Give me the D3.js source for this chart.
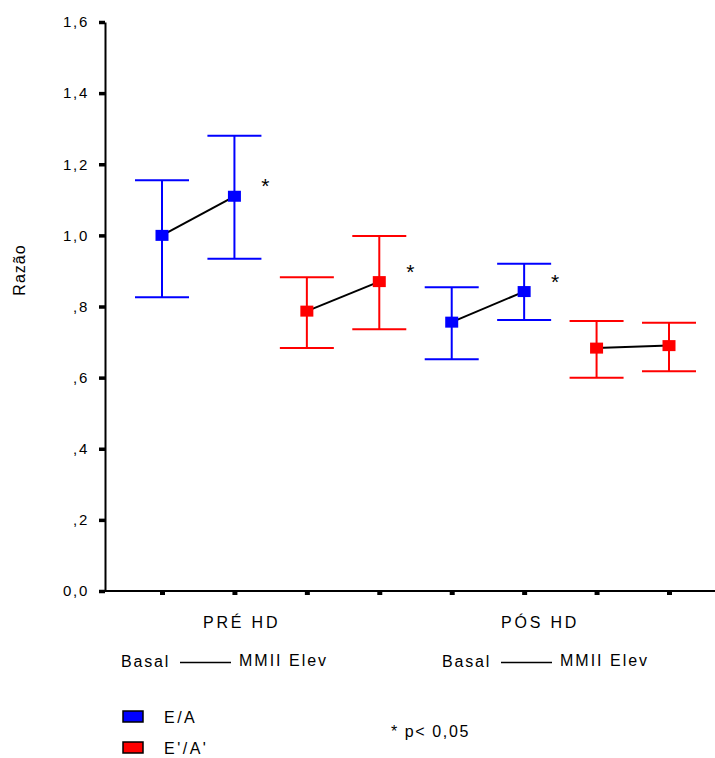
<!DOCTYPE html>
<html>
<head>
<meta charset="utf-8">
<script src="https://cdn.jsdelivr.net/npm/d3@7"></script>
<style>
  body { margin: 0; background: #fff; }
  svg text { font-family: "Liberation Sans", Arial, sans-serif; fill: #000; }
</style>
</head>
<body>
<svg id="chart" width="715" height="758"></svg>
<script>
// groups / series / conditions
var groups = ["PRÉ HD", "PÓS HD"];
var seriesNames = ["E/A", "E'/A'"];
var conditions = ["Basal", "MMII Elev"];

// values per series, order: PRÉ Basal, PRÉ Elev, PÓS Basal, PÓS Elev
var eaMean = [1.00, 1.11, 0.756, 0.842];
var eaLow  = [0.826, 0.934, 0.652, 0.762];
var eaHigh = [1.155, 1.280, 0.854, 0.920];
var eaSig  = [false, true, false, true];

var eapMean = [0.787, 0.870, 0.683, 0.690];
var eapLow  = [0.683, 0.736, 0.600, 0.618];
var eapHigh = [0.882, 0.998, 0.759, 0.754];
var eapSig  = [false, true, false, false];

var yTickValues = [0, 0.2, 0.4, 0.6, 0.8, 1.0, 1.2, 1.4, 1.6];
var yTickLabels = ["0,0", ",2", ",4", ",6", ",8", "1,0", "1,2", "1,4", "1,6"];

var colors = {"E/A": "#0000ff", "E'/A'": "#ff0000"};

var width = 715;
var margin = {left: 105, top: 22, bottom: 591};

// build one record per slot on the x axis
var seriesData = {
    "E/A": {mean: eaMean, low: eaLow, high: eaHigh, sig: eaSig},
    "E'/A'": {mean: eapMean, low: eapLow, high: eapHigh, sig: eapSig}
};
var slots = [];
groups.forEach(function(g, gi) {
    seriesNames.forEach(function(s) {
        conditions.forEach(function(c, ci) {
            var k = gi * 2 + ci;
            var sd = seriesData[s];
            slots.push({key: g + "|" + s + "|" + c, group: g, series: s, cond: c,
                mean: sd.mean[k], low: sd.low[k], high: sd.high[k], sig: sd.sig[k]});
        });
    });
});

var svg = d3.select("#chart");

var x = d3.scalePoint()
    .domain(slots.map(function(d) { return d.key; }))
    .range([162, 669]);

var y = d3.scaleLinear()
    .domain([0, 1.6])
    .range([margin.bottom, margin.top]);

// y axis
var yAxis = svg.append("g")
    .attr("transform", "translate(" + margin.left + ",0)")
    .call(d3.axisLeft(y)
        .tickValues(yTickValues)
        .tickFormat(function(d, i) { return yTickLabels[i]; })
        .tickSize(6)
        .tickSizeOuter(0)
        .tickPadding(10));
yAxis.select(".domain").attr("stroke", "#000").attr("stroke-width", 2);
yAxis.selectAll(".tick line").attr("stroke", "#000").attr("stroke-width", 3.5);
yAxis.selectAll(".tick text")
    .attr("font-size", 15)
    .attr("letter-spacing", "1.7px")
    .attr("font-family", "Liberation Sans, Arial, sans-serif");

// x axis: line to the right edge, square ticks below
svg.append("line")
    .attr("x1", margin.left - 6).attr("x2", width)
    .attr("y1", margin.bottom).attr("y2", margin.bottom)
    .attr("stroke", "#000").attr("stroke-width", 2);

var xAxis = svg.append("g")
    .attr("transform", "translate(0," + margin.bottom + ")")
    .call(d3.axisBottom(x).tickSize(4).tickSizeOuter(0).tickFormat(""));
xAxis.select(".domain").remove();
xAxis.selectAll(".tick line").attr("stroke", "#000").attr("stroke-width", 5);

// connecting lines Basal -> MMII Elev
var pairs = d3.groups(slots, function(d) { return d.group + "|" + d.series; });
svg.append("g").selectAll("line")
    .data(pairs)
    .enter().append("line")
    .attr("x1", function(p) { return x(p[1][0].key); })
    .attr("y1", function(p) { return y(p[1][0].mean); })
    .attr("x2", function(p) { return x(p[1][1].key); })
    .attr("y2", function(p) { return y(p[1][1].mean); })
    .attr("stroke", "#000").attr("stroke-width", 2);

// error bars
var bars = svg.append("g").selectAll("g")
    .data(slots)
    .enter().append("g")
    .attr("stroke", function(d) { return colors[d.series]; })
    .attr("stroke-width", 2);

bars.append("line")
    .attr("x1", function(d) { return x(d.key); })
    .attr("x2", function(d) { return x(d.key); })
    .attr("y1", function(d) { return y(d.low); })
    .attr("y2", function(d) { return y(d.high); });

bars.append("line")
    .attr("x1", function(d) { return x(d.key) - 27; })
    .attr("x2", function(d) { return x(d.key) + 27; })
    .attr("y1", function(d) { return y(d.high); })
    .attr("y2", function(d) { return y(d.high); });

bars.append("line")
    .attr("x1", function(d) { return x(d.key) - 27; })
    .attr("x2", function(d) { return x(d.key) + 27; })
    .attr("y1", function(d) { return y(d.low); })
    .attr("y2", function(d) { return y(d.low); });

// mean markers
svg.append("g").selectAll("rect")
    .data(slots)
    .enter().append("rect")
    .attr("x", function(d) { return x(d.key) - 6.5; })
    .attr("y", function(d) { return y(d.mean) - 5.5; })
    .attr("width", 13)
    .attr("height", 11)
    .attr("fill", function(d) { return colors[d.series]; });

// significance asterisks
svg.append("g").selectAll("text")
    .data(slots.filter(function(d) { return d.sig; }))
    .enter().append("text")
    .attr("x", function(d) { return x(d.key) + 31; })
    .attr("y", function(d) { return y(d.mean) - 3; })
    .attr("text-anchor", "middle")
    .attr("font-size", 21)
    .text("*");

// y axis title
svg.append("text")
    .attr("transform", "translate(25,270) rotate(-90)")
    .attr("text-anchor", "middle")
    .attr("font-size", 16)
    .attr("letter-spacing", "1px")
    .text("Razão");

// group labels
var groupLabelX = [203, 501];
svg.append("g").selectAll("text")
    .data(groups)
    .enter().append("text")
    .attr("x", function(d, i) { return groupLabelX[i]; })
    .attr("y", 628)
    .attr("font-size", 16)
    .attr("letter-spacing", "2.8px")
    .text(function(d) { return d; });

// Basal ---- MMII Elev under each group
var condRowX = [121, 442];
condRowX.forEach(function(x0) {
    var row = svg.append("g").attr("transform", "translate(" + x0 + ",667)");
    row.append("text")
        .attr("font-size", 16)
        .attr("letter-spacing", "1.8px")
        .text(conditions[0]);
    row.append("line")
        .attr("x1", 59).attr("x2", 110)
        .attr("y1", -4.5).attr("y2", -4.5)
        .attr("stroke", "#000").attr("stroke-width", 1.3);
    row.append("text")
        .attr("x", 118)
        .attr("y", -1)
        .attr("font-size", 16)
        .attr("letter-spacing", "2px")
        .text(conditions[1]);
});

// legend
var legend = svg.append("g").selectAll("g")
    .data(seriesNames)
    .enter().append("g")
    .attr("transform", function(d, i) { return "translate(123," + (711 + i * 31) + ")"; });
legend.append("rect")
    .attr("width", 20).attr("height", 11)
    .attr("fill", function(d) { return colors[d]; })
    .attr("stroke", "#000").attr("stroke-width", 1.5);
legend.append("text")
    .attr("x", 41).attr("y", 12)
    .attr("font-size", 16)
    .attr("letter-spacing", "2.5px")
    .text(function(d) { return d; });

svg.append("text")
    .attr("x", 391).attr("y", 737)
    .attr("font-size", 16)
    .attr("letter-spacing", "1.6px")
    .text("* p< 0,05");
</script>
</body>
</html>
